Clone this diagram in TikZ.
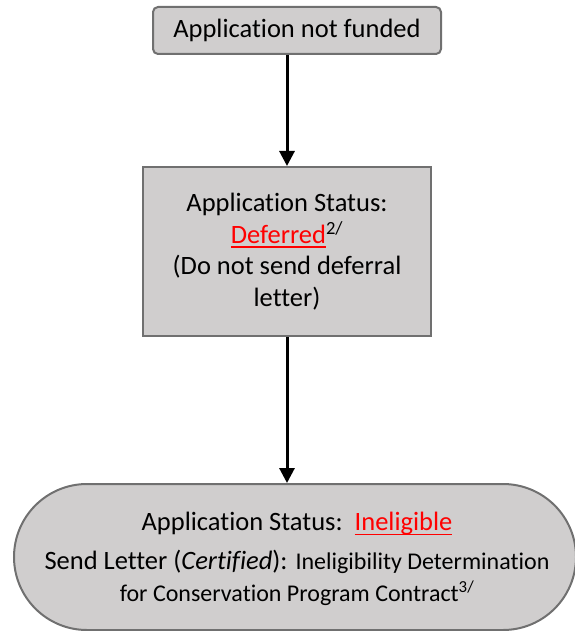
\documentclass[tikz,border=0pt]{standalone}
\usepackage{fontspec}
\setmainfont{Carlito}[Ligatures=NoCommon]
\usetikzlibrary{arrows.meta}
\definecolor{boxfill}{RGB}{208,206,206}
\definecolor{boxline}{RGB}{112,112,112}
\definecolor{redtxt}{RGB}{255,0,0}
\tikzset{
  flowbox/.style={draw=boxline, line width=2pt, fill=boxfill, inner sep=0pt, align=center, text=black},
  flowarrow/.style={line width=3pt, -{Triangle[length=15pt,width=15pt]}, shorten >=0pt}
}
\newcommand{\redul}[1]{{\color{redtxt}\setbox0\hbox{#1}\rlap{\raisebox{-4.5pt}{\rule{\wd0}{1.6pt}}}\box0}}
\begin{document}
\begin{tikzpicture}[x=1pt,y=-1pt]
\useasboundingbox (0,0) rectangle (574,631);
\node[flowbox, rounded corners=5pt, minimum width=288pt, minimum height=47pt,
      font=\fontsize{26.5}{30}\selectfont] (top) at (297,30.5) {Application not funded};
\node[flowbox, minimum width=288pt, minimum height=169pt,
      font=\fontsize{26.5}{31.5}\selectfont] (mid) at (287,251.5)
      {Application Status:\\ \redul{Deferred}\textsuperscript{2/}\\ (Do not send deferral\\ letter)};
\node[flowbox, rounded corners=73pt, minimum width=562pt, minimum height=146pt] (bot) at (295,557) {};
\node[align=center, inner sep=0pt, font=\fontsize{26.5}{39}\selectfont] (botlabel) at (297,559)
      {Application Status:\ \ \redul{Ineligible}\\
       Send Letter (\textit{Certified}): {\fontsize{24}{28}\selectfont Ineligibility Determination}\\[-7pt]
       {\fontsize{24}{28}\selectfont for Conservation Program Contract\textsuperscript{3/}}};
\draw[flowarrow] (top.south -| mid.north) -- (mid.north);
\draw[flowarrow] (mid.south) -- (mid.south |- bot.north);
\end{tikzpicture}
\end{document}
